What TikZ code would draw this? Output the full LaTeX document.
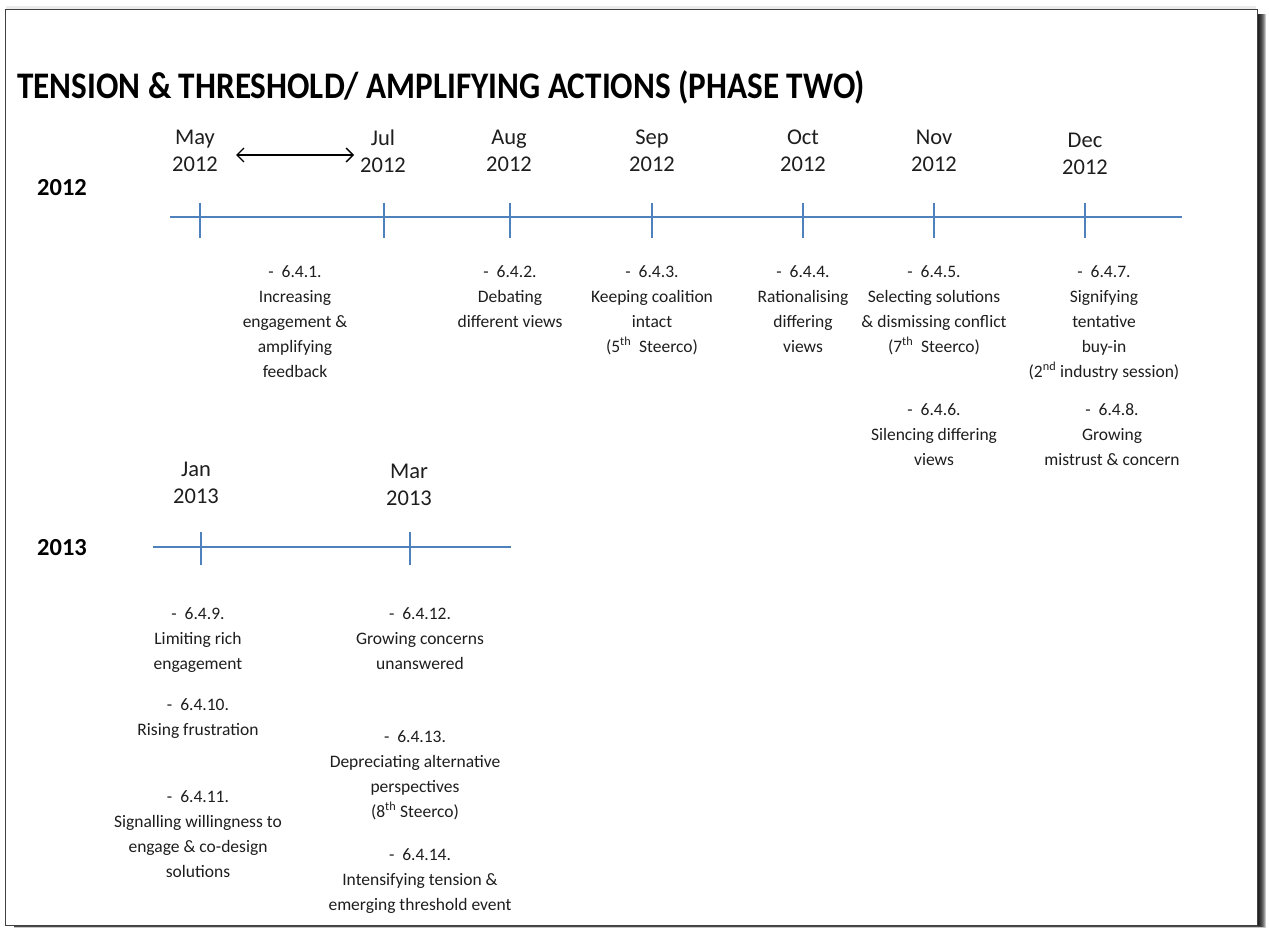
\documentclass[tikz,border=0pt]{standalone}
\usepackage{fontspec}
\setmainfont{Carlito}
\usetikzlibrary{arrows.meta}
\definecolor{axisblue}{RGB}{79,129,189}
\definecolor{inkgray}{RGB}{30,30,30}

\begin{document}
\begin{tikzpicture}[x=1pt,y=-1pt,
  event/.style={align=center, inner sep=0pt, anchor=north, text=inkgray,
                font=\fontsize{17.5}{25}\selectfont},
  month/.style={align=center, inner sep=0pt, anchor=north, text=inkgray,
                font=\fontsize{22.5}{27}\selectfont},
  yearlabel/.style={inner sep=0pt, text=black, font=\bfseries\fontsize{24.5}{28}\selectfont},
  axisline/.style={draw=axisblue, line width=1.8pt},
  tickline/.style={draw=axisblue, line width=1.4pt},
  spanarrow/.style={draw=black, line width=1.4pt,
     {Straight Barb[length=7pt,width=14pt]}-{Straight Barb[length=7pt,width=14pt]}}]

\useasboundingbox (0,0) rectangle (1269,928);

% sheet with a soft shadow on its right-hand side
\foreach \d in {0,...,9}
  \fill[black, opacity=0.22] (14,14) rectangle (1257+\d, 925+0.3*\d);
\fill[black, opacity=0.08] (6,6) rectangle (1256,12);
\draw[black!75, line width=1pt, fill=white] (5,10) rectangle (1257,925);

% title
\node[anchor=west, inner sep=0pt, font=\bfseries\fontsize{37.5}{40}\selectfont] (title) at (17,87)
  {\scalebox{0.885}[1]{TENSION \& THRESHOLD/ AMPLIFYING ACTIONS (PHASE TWO)}};

% ---------------- 2012 ----------------
\node[yearlabel] (y12) at (62,188) {2012};

\coordinate (a12s) at (170,217);
\coordinate (a12e) at (1182,217);
\draw[axisline] (a12s) -- (a12e);
\foreach \x in {200,384,510,652,803,934,1085}
  \draw[tickline] (\x,203) -- (\x,238);

\node[month] (may12) at (195,130) {May\\2012};
\node[month] (jul12) at (383,130) {Jul\\2012};
\node[month] (aug12) at (509,130) {Aug\\2012};
\node[month] (sep12) at (652,130) {Sep\\2012};
\node[month] (oct12) at (803,130) {Oct\\2012};
\node[month] (nov12) at (934,130) {Nov\\2012};
\node[month] (dec12) at (1085,133) {Dec\\2012};

\coordinate (spanL) at (236,155);
\coordinate (spanR) at (354,155);
\draw[spanarrow] (spanL) -- (spanR);

\node[event] (e641) at (295,265) {- \ 6.4.1.\\Increasing\\engagement \&\\amplifying\\feedback};
\node[event] (e642) at (510,265) {- \ 6.4.2.\\Debating\\different views};
\node[event] (e643) at (652,265) {- \ 6.4.3.\\Keeping coalition\\intact\\(5\textsuperscript{th}\ \ Steerco)};
\node[event] (e644) at (803,265) {- \ 6.4.4.\\Rationalising\\differing\\views};
\node[event] (e645) at (934,265) {- \ 6.4.5.\\Selecting solutions\\\& dismissing conflict\\(7\textsuperscript{th}\ \ Steerco)};
\node[event] (e647) at (1104,265) {- \ 6.4.7.\\Signifying\\tentative\\buy-in\\(2\textsuperscript{nd} industry session)};
\node[event] (e646) at (934,403) {- \ 6.4.6.\\Silencing differing\\views};
\node[event] (e648) at (1112,403) {- \ 6.4.8.\\Growing\\mistrust \& concern};

% ---------------- 2013 ----------------
\node[yearlabel] (y13) at (62,548) {2013};

\coordinate (a13s) at (153,547);
\coordinate (a13e) at (511,547);
\draw[axisline] (a13s) -- (a13e);
\foreach \x in {201,410}
  \draw[tickline] (\x,532) -- (\x,565);

\node[month] (jan13) at (196,462) {Jan\\2013};
\node[month] (mar13) at (409,464) {Mar\\2013};

\node[event] (e649)  at (198,607) {- \ 6.4.9.\\Limiting rich\\engagement};
\node[event] (e6410) at (198,698) {- \ 6.4.10.\\Rising frustration};
\node[event] (e6411) at (198,790) {- \ 6.4.11.\\Signalling willingness to\\engage \& co-design\\solutions};
\node[event] (e6412) at (420,607) {- \ 6.4.12.\\Growing concerns\\unanswered};
\node[event] (e6413) at (415,730) {- \ 6.4.13.\\Depreciating alternative\\perspectives\\(8\textsuperscript{th} Steerco)};
\node[event] (e6414) at (420,848) {- \ 6.4.14.\\Intensifying tension \&\\emerging threshold event};

\end{tikzpicture}
\end{document}
